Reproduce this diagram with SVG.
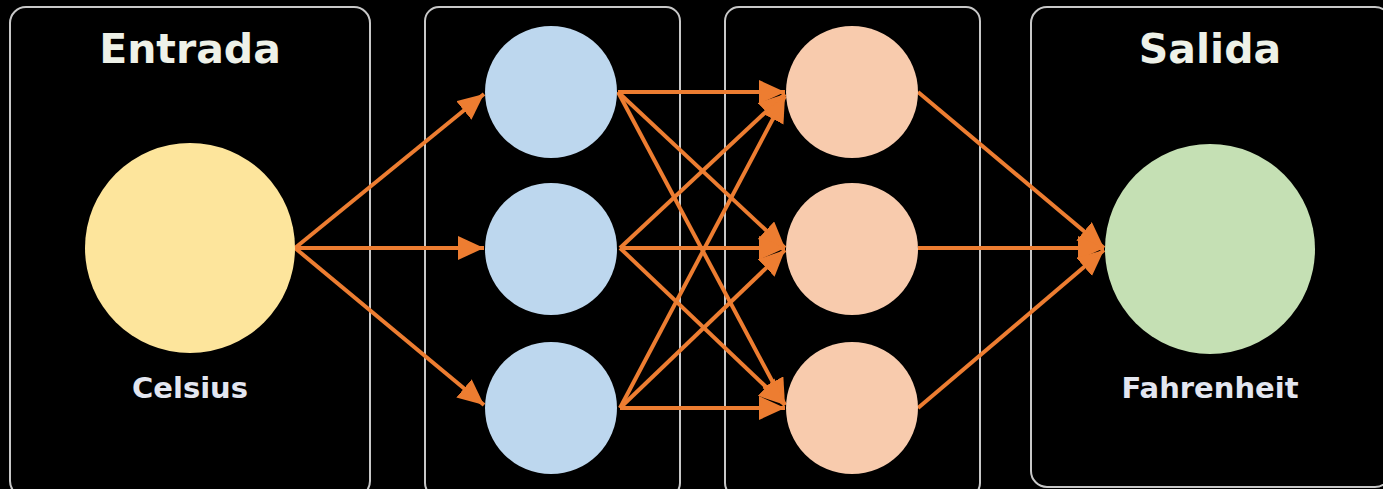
<svg xmlns="http://www.w3.org/2000/svg" width="1383" height="489" viewBox="0 0 1383 489">
<defs>
<style>
.panel{fill:#000;stroke:#c8c8c8;stroke-width:2}
.title{font-family:"DejaVu Sans","Liberation Sans",sans-serif;font-weight:bold;font-size:41px;fill:#eef1e8;text-anchor:middle}
.label{font-family:"DejaVu Sans","Liberation Sans",sans-serif;font-weight:bold;font-size:29px;fill:#e3e6f0;text-anchor:middle}
.edge{stroke:#ed7d31;stroke-width:4;fill:none;marker-end:url(#ah)}
</style>
<marker id="ah" markerUnits="userSpaceOnUse" markerWidth="28" markerHeight="26" refX="26" refY="12" orient="auto">
<path d="M0,0 L26,12 L0,24 Z" fill="#ed7d31"/>
</marker>
</defs>
<rect width="1383" height="489" fill="#000"/>
<g id="panels">
<rect class="panel" x="10" y="7" width="360" height="490" rx="16"/>
<rect class="panel" x="425" y="7" width="255" height="490" rx="14"/>
<rect class="panel" x="725" y="7" width="255" height="490" rx="14"/>
<rect class="panel" x="1031" y="7" width="360" height="480" rx="16"/>
</g>
<g id="connectors">
<line class="edge" x1="295" y1="248" x2="484" y2="94"/>
<line class="edge" x1="295" y1="248" x2="484" y2="248"/>
<line class="edge" x1="295" y1="248" x2="484" y2="405"/>
<line class="edge" x1="618" y1="92" x2="785" y2="92"/>
<line class="edge" x1="618" y1="92" x2="785" y2="248"/>
<line class="edge" x1="618" y1="92" x2="785" y2="405"/>
<line class="edge" x1="620" y1="248" x2="785" y2="94"/>
<line class="edge" x1="620" y1="248" x2="785" y2="248"/>
<line class="edge" x1="620" y1="248" x2="785" y2="405"/>
<line class="edge" x1="620" y1="408" x2="785" y2="96"/>
<line class="edge" x1="620" y1="408" x2="785" y2="250"/>
<line class="edge" x1="620" y1="408" x2="785" y2="408"/>
<line class="edge" x1="918" y1="92" x2="1104" y2="248"/>
<line class="edge" x1="918" y1="248" x2="1104" y2="248"/>
<line class="edge" x1="918" y1="408" x2="1104" y2="250"/>
</g>
<g id="entrada">
<text class="title" x="190" y="63">Entrada</text>
<circle cx="190" cy="248" r="105" fill="#fde59c"/>
<text class="label" x="190" y="398">Celsius</text>
</g>
<g id="h1"><circle cx="551" cy="92" r="66" fill="#bdd7ee"/></g>
<g id="h2"><circle cx="551" cy="249" r="66" fill="#bdd7ee"/></g>
<g id="h3"><circle cx="551" cy="408" r="66" fill="#bdd7ee"/></g>
<g id="o1"><circle cx="852" cy="92" r="66" fill="#f8cbad"/></g>
<g id="o2"><circle cx="852" cy="249" r="66" fill="#f8cbad"/></g>
<g id="o3"><circle cx="852" cy="408" r="66" fill="#f8cbad"/></g>
<g id="salida">
<text class="title" x="1210" y="63">Salida</text>
<circle cx="1210" cy="249" r="105" fill="#c5e0b4"/>
<text class="label" x="1210" y="398">Fahrenheit</text>
</g>
</svg>
